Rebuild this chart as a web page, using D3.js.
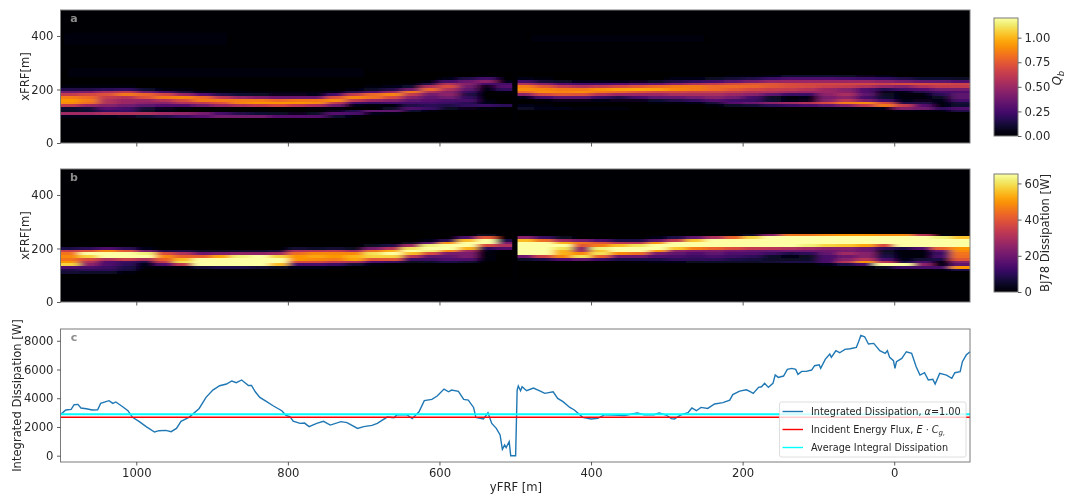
<!DOCTYPE html>
<html>
<head>
<meta charset="utf-8">
<script src="https://cdn.jsdelivr.net/npm/d3@7"></script>
<style>
    html, body { margin: 0; padding: 0; background: #fff; }
    svg { display: block; filter: blur(0.3px); }
    text { font-family: "DejaVu Sans", sans-serif; fill: #262626; }
</style>
</head>
<body>
<svg id="chart" width="1065" height="498"></svg>
<script>
// cross-shore rows of the two heatmaps, xFRF [m]
var crossRows = [260, 250, 240, 230, 220, 210, 200, 190, 180, 170, 160, 150, 140, 130, 120, 110, 100, 90];
// alongshore column centres, yFRF [m]
var alongColumns = [1087.5, 1062.5, 1037.5, 1012.5, 987.5, 962.5, 937.5, 912.5, 887.5, 862.5, 837.5, 812.5,
    787.5, 762.5, 737.5, 712.5, 687.5, 662.5, 637.5, 612.5, 587.5, 562.5, 537.5, 512.5,
    487.5, 462.5, 437.5, 412.5, 387.5, 362.5, 337.5, 312.5, 287.5, 262.5, 237.5, 212.5,
    187.5, 162.5, 137.5, 112.5, 87.5, 62.5, 37.5, 12.5, -12.5, -37.5, -62.5, -87.5];
// no data between these two yFRF values
var gapEdges = [504, 497];

// Qb x 100, one line per alongshore column, one value per crossRows entry
var qbProfiles = [
    [0, 0, 0, 0, 0, 3, 15, 38, 62, 85, 92, 90, 62, 10, 8, 52, 4, 0],
    [0, 0, 0, 0, 0, 3, 15, 42, 68, 80, 85, 82, 50, 12, 10, 52, 4, 0],
    [0, 0, 0, 0, 0, 3, 18, 55, 72, 62, 56, 56, 44, 30, 20, 56, 5, 0],
    [0, 0, 0, 0, 0, 3, 20, 62, 84, 58, 50, 50, 38, 25, 22, 56, 6, 0],
    [0, 0, 0, 0, 0, 1, 10, 38, 78, 72, 50, 45, 32, 12, 8, 56, 10, 0],
    [0, 0, 0, 0, 0, 0, 3, 25, 68, 84, 58, 45, 30, 6, 4, 52, 15, 0],
    [0, 0, 0, 0, 0, 0, 2, 12, 50, 88, 70, 56, 30, 2, 1, 48, 22, 0],
    [0, 0, 0, 0, 0, 0, 0, 5, 30, 80, 84, 62, 38, 1, 1, 40, 30, 0],
    [0, 0, 0, 0, 0, 0, 0, 3, 15, 60, 85, 72, 50, 1, 0, 25, 38, 0],
    [0, 0, 0, 0, 0, 0, 0, 2, 10, 48, 86, 88, 56, 1, 0, 15, 38, 0],
    [0, 0, 0, 0, 0, 0, 0, 2, 8, 42, 86, 92, 62, 1, 0, 10, 38, 0],
    [0, 0, 0, 0, 0, 0, 0, 2, 6, 36, 80, 92, 68, 1, 0, 8, 30, 0],
    [0, 0, 0, 0, 0, 0, 0, 2, 6, 36, 84, 92, 60, 1, 0, 6, 30, 0],
    [0, 0, 0, 0, 0, 0, 0, 2, 5, 36, 84, 90, 55, 2, 0, 8, 30, 0],
    [0, 0, 0, 0, 0, 0, 0, 5, 25, 72, 90, 62, 38, 3, 6, 30, 10, 0],
    [0, 0, 0, 0, 0, 0, 3, 15, 62, 88, 62, 25, 4, 1, 16, 26, 3, 0],
    [0, 0, 0, 0, 0, 2, 8, 30, 80, 82, 50, 20, 2, 1, 34, 5, 0, 0],
    [0, 0, 0, 0, 0, 5, 15, 50, 88, 68, 44, 24, 3, 8, 34, 2, 0, 0],
    [0, 0, 0, 0, 3, 10, 38, 84, 62, 44, 32, 24, 15, 28, 10, 0, 0, 0],
    [0, 0, 0, 3, 15, 56, 80, 56, 38, 32, 30, 24, 18, 22, 3, 0, 0, 0],
    [0, 0, 5, 25, 56, 70, 56, 44, 46, 38, 26, 22, 15, 8, 1, 0, 0, 0],
    [0, 0, 15, 36, 44, 38, 32, 22, 15, 20, 26, 18, 20, 6, 0, 0, 0, 0],
    [0, 2, 25, 46, 25, 6, 2, 1, 1, 1, 2, 4, 22, 2, 0, 0, 0, 0],
    [0, 0, 0, 5, 25, 30, 20, 2, 0, 0, 0, 0, 18, 1, 0, 0, 0, 0],
    [0, 0, 5, 25, 56, 86, 90, 80, 44, 5, 1, 0, 4, 8, 0, 0, 0, 0],
    [0, 0, 2, 12, 44, 74, 88, 90, 68, 25, 3, 0, 3, 5, 0, 0, 0, 0],
    [0, 0, 0, 8, 30, 62, 84, 88, 74, 32, 6, 0, 1, 4, 0, 0, 0, 0],
    [0, 0, 0, 5, 25, 56, 84, 90, 72, 32, 6, 0, 1, 3, 0, 0, 0, 0],
    [0, 0, 0, 5, 25, 62, 90, 84, 58, 22, 5, 0, 1, 3, 0, 0, 0, 0],
    [0, 0, 0, 5, 30, 68, 94, 80, 50, 15, 6, 1, 1, 2, 0, 0, 0, 0],
    [0, 0, 0, 6, 32, 74, 96, 74, 50, 25, 6, 1, 0, 1, 0, 0, 0, 0],
    [0, 0, 0, 8, 36, 80, 94, 68, 50, 32, 10, 2, 0, 0, 0, 0, 0, 0],
    [0, 0, 4, 15, 46, 84, 88, 68, 54, 34, 15, 3, 0, 0, 0, 0, 0, 0],
    [0, 0, 5, 20, 56, 84, 84, 66, 54, 38, 20, 5, 0, 0, 0, 0, 0, 0],
    [0, 0, 8, 25, 62, 80, 80, 66, 54, 44, 30, 12, 3, 0, 0, 0, 0, 0],
    [0, 2, 12, 32, 70, 80, 74, 62, 50, 38, 24, 30, 8, 0, 0, 0, 0, 0],
    [0, 3, 15, 40, 74, 78, 68, 58, 44, 25, 22, 36, 12, 0, 0, 0, 0, 0],
    [0, 5, 22, 48, 74, 74, 64, 56, 32, 8, 10, 46, 18, 0, 0, 0, 0, 0],
    [0, 10, 28, 50, 70, 70, 62, 52, 22, 3, 5, 52, 22, 0, 0, 0, 0, 0],
    [0, 10, 28, 50, 68, 68, 58, 50, 22, 4, 6, 58, 26, 0, 0, 0, 0, 0],
    [0, 10, 28, 50, 68, 64, 50, 50, 46, 40, 44, 70, 32, 2, 0, 0, 0, 0],
    [0, 8, 25, 50, 68, 62, 44, 46, 54, 46, 60, 86, 44, 2, 0, 0, 0, 0],
    [0, 6, 22, 50, 68, 56, 28, 28, 32, 25, 42, 90, 62, 3, 0, 0, 0, 0],
    [0, 5, 20, 46, 66, 48, 16, 6, 8, 10, 25, 70, 84, 5, 0, 0, 0, 0],
    [0, 0, 15, 40, 70, 44, 24, 4, 2, 2, 4, 15, 64, 44, 2, 0, 0, 0],
    [0, 0, 10, 34, 70, 56, 30, 15, 3, 3, 6, 15, 30, 38, 3, 0, 0, 0],
    [0, 0, 10, 32, 68, 62, 38, 25, 18, 8, 4, 2, 2, 20, 3, 0, 0, 0],
    [0, 0, 8, 28, 66, 62, 38, 28, 32, 32, 25, 12, 10, 28, 15, 0, 0, 0]
];

// BJ78 dissipation [W], same layout as qbProfiles
var dissipationProfiles = [
    [0, 0, 0, 0, 0, 0, 8, 35, 45, 48, 45, 50, 58, 15, 8, 6, 0, 0],
    [0, 0, 0, 0, 0, 0, 10, 40, 65, 58, 38, 30, 25, 14, 10, 5, 0, 0],
    [0, 0, 0, 0, 0, 0, 15, 48, 75, 70, 30, 15, 15, 12, 10, 5, 0, 0],
    [0, 0, 0, 0, 0, 0, 10, 40, 75, 75, 35, 12, 10, 8, 7, 2, 0, 0],
    [0, 0, 0, 0, 0, 0, 3, 22, 62, 68, 30, 8, 3, 2, 0, 0, 0, 0],
    [0, 0, 0, 0, 0, 0, 0, 8, 38, 48, 42, 34, 15, 2, 0, 0, 0, 0],
    [0, 0, 0, 0, 0, 0, 0, 8, 30, 42, 55, 60, 34, 2, 0, 0, 0, 0],
    [0, 0, 0, 0, 0, 0, 0, 4, 20, 42, 72, 80, 70, 6, 0, 0, 0, 0],
    [0, 0, 0, 0, 0, 0, 0, 4, 22, 52, 80, 80, 80, 8, 0, 0, 0, 0],
    [0, 0, 0, 0, 0, 0, 0, 5, 25, 62, 80, 80, 80, 8, 0, 0, 0, 0],
    [0, 0, 0, 0, 0, 0, 0, 5, 25, 65, 80, 80, 72, 6, 0, 0, 0, 0],
    [0, 0, 0, 0, 0, 0, 0, 6, 28, 58, 76, 80, 55, 4, 0, 0, 0, 0],
    [0, 0, 0, 0, 0, 0, 6, 30, 44, 50, 50, 38, 14, 3, 0, 0, 0, 0],
    [0, 0, 0, 0, 0, 0, 5, 32, 48, 52, 48, 38, 14, 3, 0, 0, 0, 0],
    [0, 0, 0, 0, 0, 0, 6, 34, 48, 50, 46, 34, 12, 2, 0, 0, 0, 0],
    [0, 0, 0, 0, 0, 0, 4, 28, 48, 54, 52, 30, 6, 0, 0, 0, 0, 0],
    [0, 0, 0, 0, 0, 4, 22, 45, 60, 58, 40, 15, 2, 0, 0, 0, 0, 0],
    [0, 0, 0, 0, 0, 8, 32, 54, 68, 58, 40, 12, 0, 0, 0, 0, 0, 0],
    [0, 0, 0, 0, 4, 28, 60, 75, 55, 32, 12, 4, 0, 0, 0, 0, 0, 0],
    [0, 0, 0, 3, 18, 62, 80, 62, 38, 18, 12, 5, 0, 0, 0, 0, 0, 0],
    [0, 0, 0, 10, 50, 78, 76, 48, 22, 18, 15, 8, 0, 0, 0, 0, 0, 0],
    [0, 0, 14, 55, 78, 78, 54, 28, 22, 22, 15, 6, 0, 0, 0, 0, 0, 0],
    [0, 4, 40, 75, 68, 38, 10, 3, 2, 2, 2, 0, 0, 0, 0, 0, 0, 0],
    [0, 0, 0, 8, 22, 30, 15, 0, 0, 0, 0, 0, 0, 0, 0, 0, 0, 0],
    [0, 2, 24, 55, 80, 80, 80, 80, 70, 20, 5, 0, 0, 0, 0, 0, 0, 0],
    [0, 0, 12, 44, 72, 80, 80, 80, 72, 36, 8, 0, 0, 0, 0, 0, 0, 0],
    [0, 0, 4, 28, 54, 66, 60, 54, 54, 48, 15, 0, 0, 0, 0, 0, 0, 0],
    [0, 0, 0, 22, 45, 40, 25, 28, 48, 60, 18, 0, 0, 0, 0, 0, 0, 0],
    [0, 0, 0, 15, 40, 46, 62, 56, 60, 42, 12, 0, 0, 0, 0, 0, 0, 0],
    [0, 0, 0, 8, 32, 55, 78, 80, 48, 20, 8, 0, 0, 0, 0, 0, 0, 0],
    [0, 0, 0, 8, 32, 60, 78, 80, 44, 20, 8, 2, 0, 0, 0, 0, 0, 0],
    [0, 0, 3, 18, 50, 78, 80, 50, 22, 15, 8, 3, 0, 0, 0, 0, 0, 0],
    [0, 0, 8, 34, 72, 80, 56, 25, 18, 14, 10, 3, 0, 0, 0, 0, 0, 0],
    [0, 0, 18, 56, 80, 78, 46, 22, 15, 12, 10, 4, 0, 0, 0, 0, 0, 0],
    [0, 0, 30, 70, 80, 75, 42, 22, 18, 14, 10, 5, 0, 0, 0, 0, 0, 0],
    [0, 0, 42, 76, 80, 70, 38, 20, 15, 12, 8, 5, 0, 0, 0, 0, 0, 0],
    [0, 5, 58, 80, 80, 68, 34, 18, 15, 10, 7, 5, 0, 0, 0, 0, 0, 0],
    [0, 24, 72, 80, 80, 66, 32, 18, 12, 5, 5, 6, 0, 0, 0, 0, 0, 0],
    [0, 45, 80, 80, 80, 66, 30, 20, 8, 3, 4, 8, 0, 0, 0, 0, 0, 0],
    [0, 45, 80, 80, 80, 62, 28, 20, 10, 4, 5, 8, 0, 0, 0, 0, 0, 0],
    [0, 48, 80, 80, 80, 58, 24, 20, 18, 14, 14, 14, 3, 0, 0, 0, 0, 0],
    [0, 50, 80, 80, 80, 56, 24, 22, 28, 20, 24, 32, 8, 0, 0, 0, 0, 0],
    [0, 50, 80, 80, 78, 52, 20, 20, 24, 24, 32, 50, 14, 0, 0, 0, 0, 0],
    [0, 48, 80, 80, 76, 38, 10, 4, 6, 8, 14, 32, 65, 4, 0, 0, 0, 0],
    [0, 48, 80, 80, 80, 70, 8, 1, 1, 1, 3, 8, 78, 12, 0, 0, 0, 0],
    [0, 32, 75, 80, 80, 72, 15, 1, 1, 2, 6, 14, 25, 14, 0, 0, 0, 0],
    [0, 2, 62, 80, 80, 75, 42, 18, 12, 14, 8, 2, 3, 14, 2, 0, 0, 0],
    [0, 2, 56, 80, 80, 75, 50, 48, 45, 44, 40, 24, 18, 50, 8, 0, 0, 0]
];

// faint offshore patches in the Qb panel: yFRF from, yFRF to, xFRF from, xFRF to, Qb
var qbFaintPatches = [
    [1095, 880, 365, 410, 0.02],
    [1090, 700, 248, 282, 0.025],
    [480, 250, 375, 405, 0.015]
];

// integrated dissipation line
var lineAlong = [1100, 1097, 1093, 1086, 1082, 1077, 1073, 1066, 1058, 1051, 1047, 1040, 1036, 1031, 1027, 1018, 1011, 1005,
    996, 987, 976, 970, 961, 954, 947, 941, 930, 917, 908, 899, 890, 881, 874, 868, 861, 852, 848, 843, 837, 828, 819, 808,
    803, 797, 793, 784, 778, 772, 762, 753, 744, 730, 722, 708, 700, 689, 682, 669, 660, 656, 643, 636, 627, 620, 610, 603,
    594, 588, 584, 575, 568, 562, 555, 552, 542, 536, 531, 525, 520, 517, 514, 512, 508, 506, 499.5, 497.5, 496, 493, 491,
    485, 476, 467, 461, 450, 444, 437, 428, 422, 411, 400, 391, 382, 371, 356, 339, 330, 317, 310, 301, 294, 290, 281, 272,
    267, 261, 255, 246, 237, 226, 217, 213, 204, 195, 190, 186, 179, 175, 171, 166, 160, 157, 153, 146, 141, 135, 130, 127,
    122, 116, 109, 105, 99, 97, 91, 85, 83, 77, 72, 65, 58, 50, 47, 44, 39, 34, 27, 19, 12, 9, 6, 1, -1, -3, -10, -16, -23,
    -29, -34, -40, -45, -51, -54, -60, -69, -76, -80, -87, -90, -95, -100];
var lineDissipation = [2880, 3000, 3180, 3220, 3550, 3570, 3320, 3270, 3180, 3200, 3640, 3760, 3830, 3640, 3740, 3410, 3130, 2670,
    2370, 2020, 1650, 1740, 1760, 1670, 1900, 2390, 2690, 3290, 4060, 4570, 4870, 4990, 5200, 5080, 5270, 4890, 4890, 4450, 4060, 3760, 3460, 3130,
    2830, 2710, 2410, 2250, 2270, 2020, 2250, 2390, 2130, 2370, 2300, 1900, 2020, 2110, 2250, 2690, 2640, 2850, 2850, 2580, 3060, 3830, 3920, 4150,
    4640, 4450, 4570, 4480, 3920, 3870, 3360, 2670, 2550, 2990, 2250, 1900, 1440, 440, 740, 560, 970, 0, 0, 4570, 4850, 4520, 4800,
    4520, 4710, 4500, 4340, 4450, 3990, 3760, 3360, 3180, 2670, 2550, 2600, 2850, 2830, 2800, 2970, 2850, 2850, 2970, 2830, 2580, 2550, 2850, 2990,
    3320, 3130, 3360, 3290, 3600, 3690, 3870, 4250, 4500, 4590, 4455, 4340, 4756, 4800, 5035, 4756, 5035, 5615, 5452, 5545, 6009, 6078, 6009, 5661,
    5870, 5870, 5962, 6264, 6333, 6078, 6704, 7075, 6843, 7307, 7168, 7400, 7446, 7539, 7933, 8374, 8281, 7771, 7817, 7307, 7122, 7307, 6843, 6611, 6078, 6542, 6774, 7238, 7122,
    6194, 5615, 5777, 5267, 5313, 4988, 5730, 5615, 5383, 5777, 5846, 6542, 7006, 7238];
var incidentFlux = 2670;
var averageDissipation = 2880;

var alongTicks = [1000, 800, 600, 400, 200, 0];
var crossTicks = [0, 200, 400];
var integralTicks = [0, 2000, 4000, 6000, 8000];
var qbTicks = [0, 0.25, 0.5, 0.75, 1];
var dissipationTicks = [0, 20, 40, 60];
var legendLabels = ["Integrated Dissipation, ", "Incident Energy Flux, ", "Average Integral Dissipation"];

var svg = d3.select("#chart");
var defs = svg.append("defs");
var left = 60.5, right = 970;

var x = d3.scaleLinear().domain([1100, -100]).range([left, right]);
var inferno = d3.interpolateInferno;

defs.append("filter").attr("id", "soft-a")
    .attr("filterUnits", "userSpaceOnUse")
    .attr("x", 0).attr("y", 0).attr("width", 1065).attr("height", 498)
    .append("feGaussianBlur").attr("stdDeviation", "5 0.7");
defs.append("filter").attr("id", "soft-b")
    .attr("filterUnits", "userSpaceOnUse")
    .attr("x", 0).attr("y", 0).attr("width", 1065).attr("height", 498)
    .append("feGaussianBlur").attr("stdDeviation", "4 0.55");

function styleAxis(g) {
    g.select(".domain").remove();
    g.selectAll("line").attr("stroke", "#333").attr("stroke-width", 0.8);
    g.selectAll("text").style("font-size", "11.6px").style("fill", "#262626");
}

function frame(top, height) {
    svg.append("rect")
        .attr("x", left).attr("y", top)
        .attr("width", right - left).attr("height", height)
        .attr("fill", "none").attr("stroke", "#7a7a7a").attr("stroke-width", 1);
}

function drawHeatPanel(id, top, height, profiles, color, unit, blurId, patches) {
    var y = d3.scaleLinear().domain([0, 497]).range([top + height, top]);

    svg.append("rect")
        .attr("x", left).attr("y", top)
        .attr("width", right - left).attr("height", height)
        .attr("fill", color(0));

    // the image is cut at the survey gap, each side blurred on its own
    var segments = [
        {from: 0, to: 23, clipFrom: 1100, clipTo: gapEdges[0]},
        {from: 24, to: 47, clipFrom: gapEdges[1], clipTo: -100}
    ];
    segments.forEach(function (seg, s) {
        var clipId = "clip-" + id + "-" + s;
        defs.append("clipPath").attr("id", clipId).append("rect")
            .attr("x", x(seg.clipFrom)).attr("y", top)
            .attr("width", x(seg.clipTo) - x(seg.clipFrom)).attr("height", height);

        var g = svg.append("g").attr("clip-path", "url(#" + clipId + ")")
            .append("g").attr("filter", "url(#" + blurId + ")");

        var columns = g.selectAll("g")
            .data(d3.range(seg.from, seg.to + 1))
            .enter().append("g");
        columns.selectAll("rect")
            .data(function (c) {
                return crossRows.map(function (r, i) {
                    return {column: c, row: r, value: profiles[c][i] * unit};
                });
            })
            .enter().append("rect")
            .attr("shape-rendering", "crispEdges")
            .attr("x", function (d) {
                var pad = d.column === seg.from ? 40 : 0;
                return x(alongColumns[d.column] + 12.5 + pad);
            })
            .attr("width", function (d) {
                var padL = d.column === seg.from ? 40 : 0;
                var padR = d.column === seg.to ? 40 : 0;
                return x(alongColumns[d.column] - 12.5 - padR) - x(alongColumns[d.column] + 12.5 + padL);
            })
            .attr("y", function (d) { return y(d.row + 5); })
            .attr("height", function (d) { return y(d.row - 5) - y(d.row + 5); })
            .attr("fill", function (d) { return color(d.value); });

        if (patches) {
            g.selectAll("rect.patch")
                .data(patches.filter(function (p) {
                    return s === 0 ? p[0] > gapEdges[0] : p[0] < gapEdges[1];
                }))
                .enter().append("rect")
                .attr("class", "patch")
                .attr("x", function (p) { return x(p[0]); })
                .attr("width", function (p) { return x(p[1]) - x(p[0]); })
                .attr("y", function (p) { return y(p[3]); })
                .attr("height", function (p) { return y(p[2]) - y(p[3]); })
                .attr("fill", function (p) { return color(p[4]); });
        }
    });

    frame(top, height);

    svg.append("g")
        .attr("transform", "translate(" + left + ",0)")
        .call(d3.axisLeft(y).tickValues(crossTicks).tickSize(3.5).tickPadding(3.5).tickFormat(d3.format("d")))
        .call(styleAxis);
    svg.append("g")
        .attr("transform", "translate(0," + (top + height) + ")")
        .call(d3.axisBottom(x).tickValues(alongTicks).tickSize(3.5).tickFormat(""))
        .call(styleAxis);

    svg.append("text")
        .attr("transform", "translate(29," + (top + height / 2) + ") rotate(-90)")
        .attr("text-anchor", "middle")
        .style("font-size", "11.6px")
        .text("xFRF[m]");
}

function drawColorbar(id, top, bottom, maxValue, color, ticks, format) {
    var cbLeft = 994, cbRight = 1018;
    var cy = d3.scaleLinear().domain([0, maxValue]).range([bottom, top]);
    var grad = defs.append("linearGradient").attr("id", id)
        .attr("x1", 0).attr("y1", 1).attr("x2", 0).attr("y2", 0);
    d3.range(0, 1.001, 0.05).forEach(function (t) {
        grad.append("stop").attr("offset", t).attr("stop-color", color(t * maxValue));
    });
    svg.append("rect")
        .attr("x", cbLeft).attr("y", top)
        .attr("width", cbRight - cbLeft).attr("height", bottom - top)
        .attr("fill", "url(#" + id + ")")
        .attr("stroke", "#7a7a7a").attr("stroke-width", 1);
    svg.append("g")
        .attr("transform", "translate(" + cbRight + ",0)")
        .call(d3.axisRight(cy).tickValues(ticks).tickSize(3.5).tickPadding(3).tickFormat(format))
        .call(styleAxis);
}

function panelLetter(letter, py) {
    svg.append("text")
        .attr("x", 74).attr("y", py)
        .attr("text-anchor", "middle")
        .style("font-size", "11px")
        .style("font-weight", "bold")
        .style("fill", "#8c8c8c")
        .text(letter);
}

var qbColor = function (v) { return inferno(Math.min(v / 1.2, 1)); };
var dissColor = function (v) { return inferno(Math.min(v / 65, 1)); };

drawHeatPanel("a", 10, 133, qbProfiles, qbColor, 0.01, "soft-a", qbFaintPatches);
drawHeatPanel("b", 169, 133, dissipationProfiles, dissColor, 1, "soft-b");

drawColorbar("cb-qb", 18, 136, 1.2, qbColor, qbTicks, d3.format(".2f"));
drawColorbar("cb-diss", 174, 292, 65.2, dissColor, dissipationTicks, d3.format("d"));

panelLetter("a", 22);
panelLetter("b", 181);
panelLetter("c", 341);

var qbLabel = svg.append("text")
    .attr("transform", "translate(1061,78) rotate(-90)")
    .attr("text-anchor", "middle")
    .style("font-size", "11.6px");
qbLabel.append("tspan").style("font-style", "italic").text("Q");
qbLabel.append("tspan").attr("dy", 2.5).style("font-size", "8.5px").style("font-style", "italic").text("b");

svg.append("text")
    .attr("transform", "translate(1049,233) rotate(-90)")
    .attr("text-anchor", "middle")
    .style("font-size", "11.6px")
    .text("BJ78 Dissipation [W]");

// integrated dissipation panel
var cTop = 329, cHeight = 133;
var yInt = d3.scaleLinear().domain([-440, 8820]).range([cTop + cHeight, cTop]);
var line = d3.line()
    .x(function (d, i) { return x(lineAlong[i]); })
    .y(function (d) { return yInt(d); });

svg.append("path")
    .datum(lineDissipation)
    .attr("d", line)
    .attr("fill", "none")
    .attr("stroke", "#1f77b4")
    .attr("stroke-width", 1.4);

[[incidentFlux, "#ff0000", 1.5], [averageDissipation, "#00ffff", 2]].forEach(function (h) {
    svg.append("line")
        .attr("x1", left).attr("x2", right)
        .attr("y1", yInt(h[0])).attr("y2", yInt(h[0]))
        .attr("stroke", h[1]).attr("stroke-width", h[2]);
});

frame(cTop, cHeight);
svg.append("g")
    .attr("transform", "translate(" + left + ",0)")
    .call(d3.axisLeft(yInt).tickValues(integralTicks).tickSize(3.5).tickPadding(3.5).tickFormat(d3.format("d")))
    .call(styleAxis);
svg.append("g")
    .attr("transform", "translate(0," + (cTop + cHeight) + ")")
    .call(d3.axisBottom(x).tickValues(alongTicks).tickSize(3.5).tickPadding(3.5).tickFormat(d3.format("d")))
    .call(styleAxis);

svg.append("text")
    .attr("transform", "translate(21," + (cTop + cHeight / 2 + 0) + ") rotate(-90)")
    .attr("text-anchor", "middle")
    .style("font-size", "11.6px")
    .text("Integrated Dissipation [W]");
svg.append("text")
    .attr("x", 516).attr("y", 491)
    .attr("text-anchor", "middle")
    .style("font-size", "11.6px")
    .text("yFRF [m]");

// legend
var legend = svg.append("g");
legend.append("rect")
    .attr("x", 779.5).attr("y", 402)
    .attr("width", 186.5).attr("height", 55)
    .attr("rx", 2)
    .attr("fill", "#fff").attr("fill-opacity", 0.8)
    .attr("stroke", "#d6d6d6").attr("stroke-width", 0.8);
var legendColors = ["#1f77b4", "#ff0000", "#00ffff"];
legendLabels.forEach(function (label, i) {
    var ly = 411.5 + i * 18;
    legend.append("line")
        .attr("x1", 782.5).attr("x2", 803)
        .attr("y1", ly).attr("y2", ly)
        .attr("stroke", legendColors[i]).attr("stroke-width", 1.4);
    var t = legend.append("text")
        .attr("x", 811).attr("y", ly + 3.6)
        .style("font-size", "9.7px")
        .text(label);
    if (i === 0) {
        t.append("tspan").style("font-style", "italic").text("\u03b1");
        t.append("tspan").text("=1.00");
    }
    if (i === 1) {
        t.append("tspan").style("font-style", "italic").text("E");
        t.append("tspan").text(" \u00b7 ");
        t.append("tspan").style("font-style", "italic").text("C");
        t.append("tspan").attr("dy", 2).style("font-size", "7px").style("font-style", "italic").text("g,");
    }
});
</script>
</body>
</html>
